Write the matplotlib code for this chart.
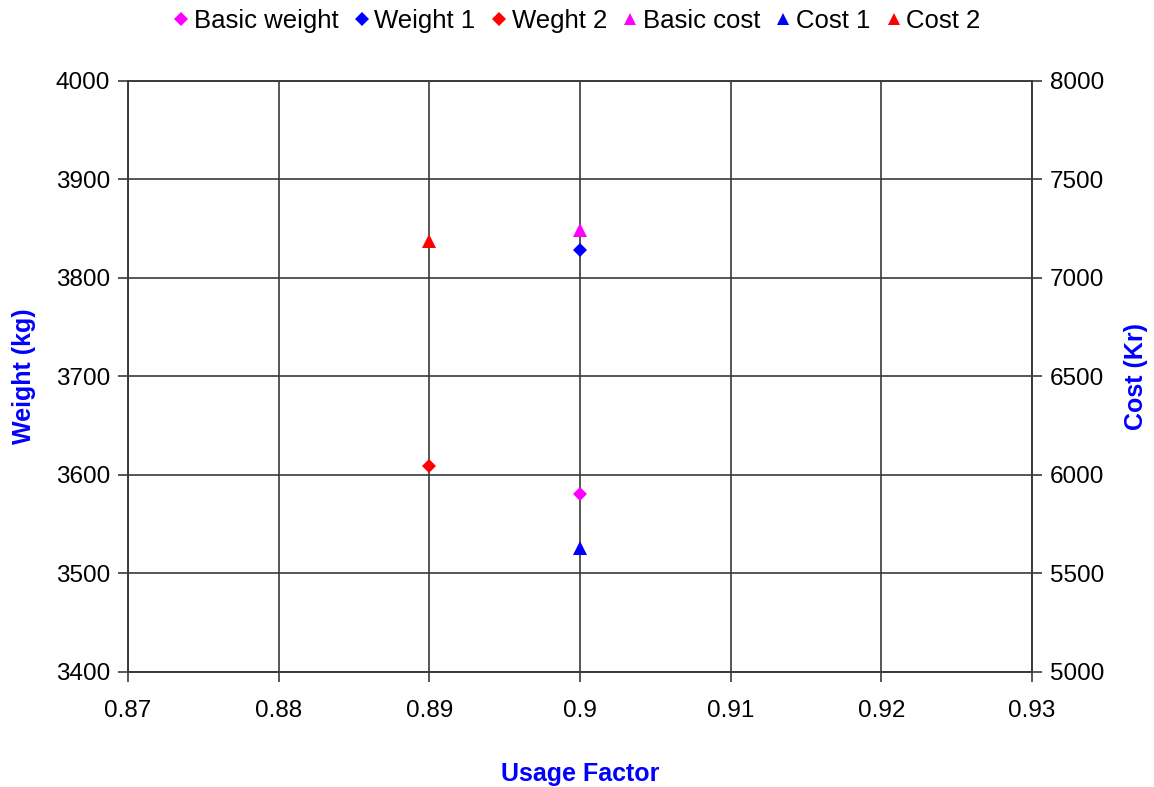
import matplotlib
matplotlib.use("Agg")
from matplotlib import pyplot as plt
from matplotlib.lines import Line2D

plt.rcParams['font.family'] = ['Liberation Sans', 'DejaVu Sans']

# weight series (left axis)
weight_names = ["Basic weight", "Weight 1", "Weght 2"]
weight_x = [0.9, 0.9, 0.89]
weight_y = [3581, 3828, 3609]

# cost series (right axis)
cost_names = ["Basic cost", "Cost 1", "Cost 2"]
cost_x = [0.9, 0.9, 0.89]
cost_y = [7244, 5630, 7188]

colors = ["#ff00ff", "#0000ff", "#ff0000"]

x_ticks = [0.87, 0.88, 0.89, 0.9, 0.91, 0.92, 0.93]
x_labels = ["0.87", "0.88", "0.89", "0.9", "0.91", "0.92", "0.93"]

fig = plt.figure(figsize=(11.54, 7.87), dpi=100)
ax = fig.add_axes([128/1154, 1 - 672/787, (1032 - 128)/1154, (672 - 81)/787])
ax2 = ax.twinx()

for name, x, y, c in zip(weight_names, weight_x, weight_y, colors):
    ax.plot([x], [y], linestyle="none", marker="D", markersize=7,
            color=c, markeredgewidth=0, label=name)
for name, x, y, c in zip(cost_names, cost_x, cost_y, colors):
    ax2.plot([x], [y], linestyle="none", marker="^", markersize=10,
             color=c, markeredgewidth=0, label=name)

ax.set_xlim(0.87, 0.93)
ax.set_ylim(3400, 4000)
ax2.set_ylim(5000, 8000)
ax.set_xticks(x_ticks)
ax.set_xticklabels(x_labels)
ax.set_yticks(range(3400, 4001, 100))
ax2.set_yticks(range(5000, 8001, 500))

ax.grid(True, color="#3a3a3a", linewidth=1.2)
ax.set_axisbelow(True)
for a in (ax, ax2):
    for s in a.spines.values():
        s.set_color("#3a3a3a")
        s.set_linewidth(1.2)
    a.tick_params(labelsize=17.5, length=7, color="#3a3a3a", width=1.2, pad=6)
ax.tick_params(axis="x", pad=13)

ax.set_xlabel("Usage Factor", fontsize=18, fontweight="bold", color="#0000ff", labelpad=29)
ax.set_ylabel("Weight (kg)", fontsize=18, fontweight="bold", color="#0000ff", labelpad=14)
ax2.set_ylabel("Cost (Kr)", fontsize=18, fontweight="bold", color="#0000ff", labelpad=14)

handles = [Line2D([], [], linestyle="none", marker="D", markersize=7, color=c,
                  markeredgewidth=0) for c in colors]
handles += [Line2D([], [], linestyle="none", marker="^", markersize=9, color=c,
                   markeredgewidth=0) for c in colors]
fig.legend(handles, weight_names + cost_names, loc="upper center", ncol=6,
           bbox_to_anchor=(0.5, 1.012), frameon=False, fontsize=18.5,
           handlelength=0.6, handletextpad=0.2, columnspacing=0.6, borderpad=0.2)

fig.savefig("out.png", dpi=100)
